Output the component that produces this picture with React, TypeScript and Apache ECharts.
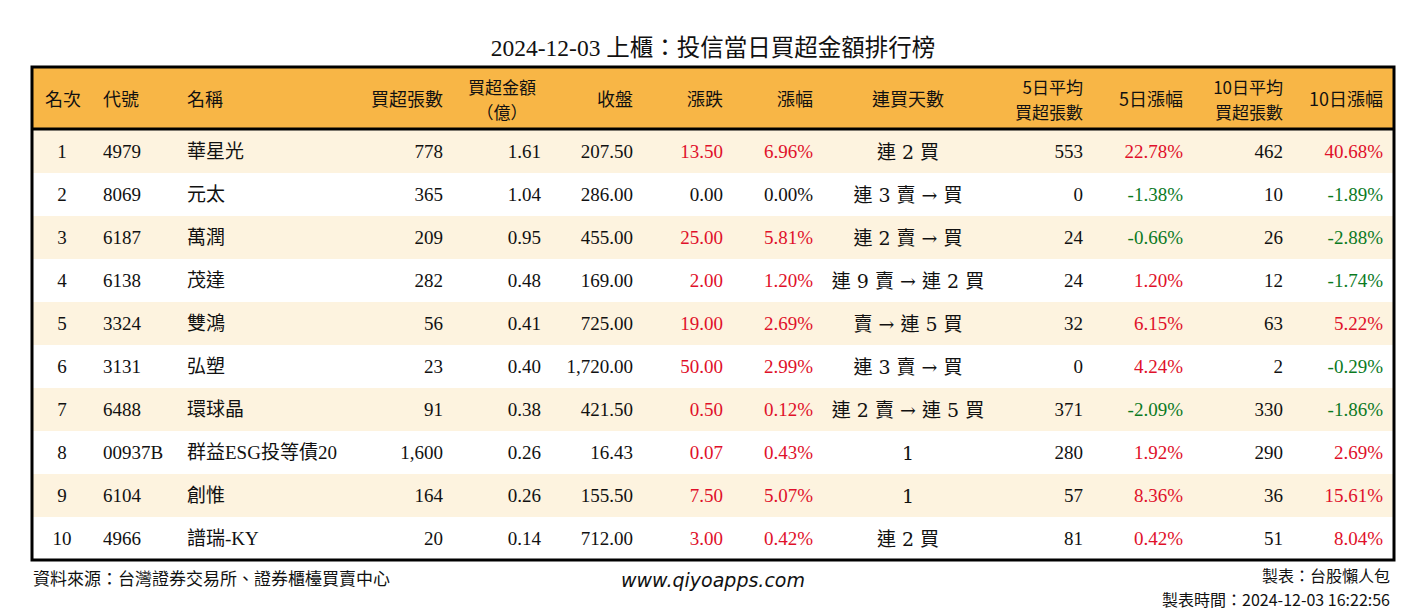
import React, { useEffect, useRef } from "react";
import * as echarts from "echarts";

const titleText = "2024-12-03 上櫃：投信當日買超金額排行榜";
const ranks = ["1", "2", "3", "4", "5", "6", "7", "8", "9", "10"];
const codes = ["4979", "8069", "6187", "6138", "3324", "3131", "6488", "00937B", "6104", "4966"];
const names = ["華星光", "元太", "萬潤", "茂達", "雙鴻", "弘塑", "環球晶", "群益ESG投等債20", "創惟", "譜瑞-KY"];
const netBuyLots = [778, 365, 209, 282, 56, 23, 91, 1600, 164, 20];
const netBuyAmount = [1.61, 1.04, 0.95, 0.48, 0.41, 0.4, 0.38, 0.26, 0.26, 0.14];
const closes = [207.5, 286, 455, 169, 725, 1720, 421.5, 16.43, 155.5, 712];
const changes = [13.5, 0, 25, 2, 19, 50, 0.5, 0.07, 7.5, 3];
const changePct = [6.96, 0, 5.81, 1.2, 2.69, 2.99, 0.12, 0.43, 5.07, 0.42];
const streaks = ["連 2 買", "連 3 賣 → 買", "連 2 賣 → 買", "連 9 賣 → 連 2 買", "賣 → 連 5 買", "連 3 賣 → 買", "連 2 賣 → 連 5 買", "1", "1", "連 2 買"];
const avg5Lots = [553, 0, 24, 24, 32, 0, 371, 280, 57, 81];
const pct5 = [22.78, -1.38, -0.66, 1.2, 6.15, 4.24, -2.09, 1.92, 8.36, 0.42];
const avg10Lots = [462, 10, 26, 12, 63, 2, 330, 290, 36, 51];
const pct10 = [40.68, -1.89, -2.88, -1.74, 5.22, -0.29, -1.86, 2.69, 15.61, 8.04];

const headers = [
  { lines: ["名次"], x: 63, align: "center" },
  { lines: ["代號"], x: 103, align: "left" },
  { lines: ["名稱"], x: 187, align: "left" },
  { lines: ["買超張數"], x: 443, align: "right" },
  { lines: ["買超金額", "（億）"], x: 502, align: "center" },
  { lines: ["收盤"], x: 633, align: "right" },
  { lines: ["漲跌"], x: 723, align: "right" },
  { lines: ["漲幅"], x: 813, align: "right" },
  { lines: ["連買天數"], x: 908, align: "center" },
  { lines: ["5日平均", "買超張數"], x: 1083, align: "right" },
  { lines: ["5日漲幅"], x: 1183, align: "right" },
  { lines: ["10日平均", "買超張數"], x: 1283, align: "right" },
  { lines: ["10日漲幅"], x: 1383, align: "right" },
];

const RED = "#E0102A";
const GREEN = "#0B7A1F";
const BLACK = "#111111";
const HEADER_BG = "#F8B646";
const STRIPE = "#FDF3DF";
const FONT = "'Liberation Serif', 'Noto Sans CJK TC', serif";
const CJK = "'Noto Sans CJK TC', 'Liberation Serif', serif";

const fmtInt = (v: number) => v.toLocaleString("en-US");
const fmt2 = (v: number) => v.toLocaleString("en-US", { minimumFractionDigits: 2, maximumFractionDigits: 2 });
const fmtPct = (v: number) => v.toFixed(2) + "%";
const signColor = (v: number) => (v > 0 ? RED : v < 0 ? GREEN : BLACK);

export default function App() {
  const ref = useRef<HTMLDivElement>(null);
  useEffect(() => {
    if (!ref.current) return;
    const chart = echarts.init(ref.current, undefined, { renderer: "svg" });

    const TL = 32, TR = 1394, TT = 67, HB = 129, TB = 560;

    const headerGraphics: any[] = [];
    headers.forEach((h) => {
      const two = h.lines.length > 1;
      const ys = two ? [86, 111] : [98];
      h.lines.forEach((line, k) => {
        headerGraphics.push({
          type: "text",
          x: h.x,
          y: ys[k],
          style: {
            text: line,
            textAlign: h.align,
            textVerticalAlign: "middle",
            fontSize: two ? 17 : 18,
            fontFamily: CJK,
            fill: BLACK,
          },
          z: 10,
        });
      });
    });

    const footStyle = (text: string, align: string, size = 17) => ({
      text, textAlign: align, textVerticalAlign: "middle", fontSize: size, fontFamily: CJK, fill: BLACK,
    });

    const option: any = {
      animation: false,
      backgroundColor: "#ffffff",
      title: {
        text: titleText,
        left: "center",
        top: 31,
        textStyle: { fontSize: 23.5, fontWeight: "normal", color: BLACK, fontFamily: FONT },
      },
      grid: { left: 0, right: 0, top: HB + 1, bottom: 612 - TB, containLabel: false },
      xAxis: { type: "value", min: 0, max: 1426, show: false },
      yAxis: { type: "category", data: ranks, inverse: true, show: false },
      graphic: [
        { type: "rect", shape: { x: TL, y: TT, width: TR - TL, height: HB - TT }, style: { fill: HEADER_BG }, z: 1 },
        ...headerGraphics,
        { type: "line", shape: { x1: TL, y1: HB, x2: TR, y2: HB }, style: { stroke: "#000", lineWidth: 3 }, z: 20 },
        { type: "rect", shape: { x: TL, y: TT, width: TR - TL, height: TB - TT }, style: { fill: "none", stroke: "#000", lineWidth: 3 }, z: 20 },
        { type: "text", x: 33, y: 577, style: footStyle("資料來源：台灣證券交易所、證券櫃檯買賣中心", "left") },
        {
          type: "text", x: 713, y: 580,
          style: { text: "www.qiyoapps.com", textAlign: "center", textVerticalAlign: "middle", fontSize: 19, fontStyle: "italic", fontFamily: "'DejaVu Sans', sans-serif", fill: BLACK },
        },
        { type: "text", x: 1390, y: 575, style: footStyle("製表：台股懶人包", "right", 16) },
        { type: "text", x: 1390, y: 599, style: footStyle("製表時間：2024-12-03 16:22:56", "right", 16) },
      ],
      series: [
        {
          type: "custom",
          coordinateSystem: "cartesian2d",
          encode: { x: 0, y: 1 },
          data: ranks.map((_, i) => [0, i]),
          renderItem: (params: any, api: any) => {
            const i = api.value(1);
            const cy = api.coord([0, i])[1];
            const h = api.size([0, 1])[1];
            const t = (text: string, x: number, align: string, fill = BLACK, family = FONT) => ({
              type: "text",
              style: { text, x, y: cy, textAlign: align, textVerticalAlign: "middle", fontSize: 19, fontFamily: family, fill },
            });
            const children: any[] = [
              { type: "rect", shape: { x: TL, y: cy - h / 2, width: TR - TL, height: h }, style: { fill: i % 2 === 0 ? STRIPE : "#ffffff" } },
              t(ranks[i], 62, "center"),
              t(codes[i], 103, "left"),
              t(names[i], 187, "left"),
              t(fmtInt(netBuyLots[i]), 443, "right"),
              t(fmt2(netBuyAmount[i]), 541, "right"),
              t(fmt2(closes[i]), 633, "right"),
              t(fmt2(changes[i]), 723, "right", signColor(changes[i])),
              t(fmtPct(changePct[i]), 813, "right", signColor(changePct[i])),
              t(streaks[i], 908, "center", BLACK, "'DejaVu Serif', 'Liberation Serif', 'Noto Sans CJK TC', serif"),
              t(fmtInt(avg5Lots[i]), 1083, "right"),
              t(fmtPct(pct5[i]), 1183, "right", signColor(pct5[i])),
              t(fmtInt(avg10Lots[i]), 1283, "right"),
              t(fmtPct(pct10[i]), 1383, "right", signColor(pct10[i])),
            ];
            return { type: "group", children };
          },
          z: 2,
        },
      ],
    };
    chart.setOption(option);
    return () => chart.dispose();
  }, []);
  return <div ref={ref} style={{ position: "fixed", left: 0, top: 0, width: 1426, height: 612 }} />;
}
